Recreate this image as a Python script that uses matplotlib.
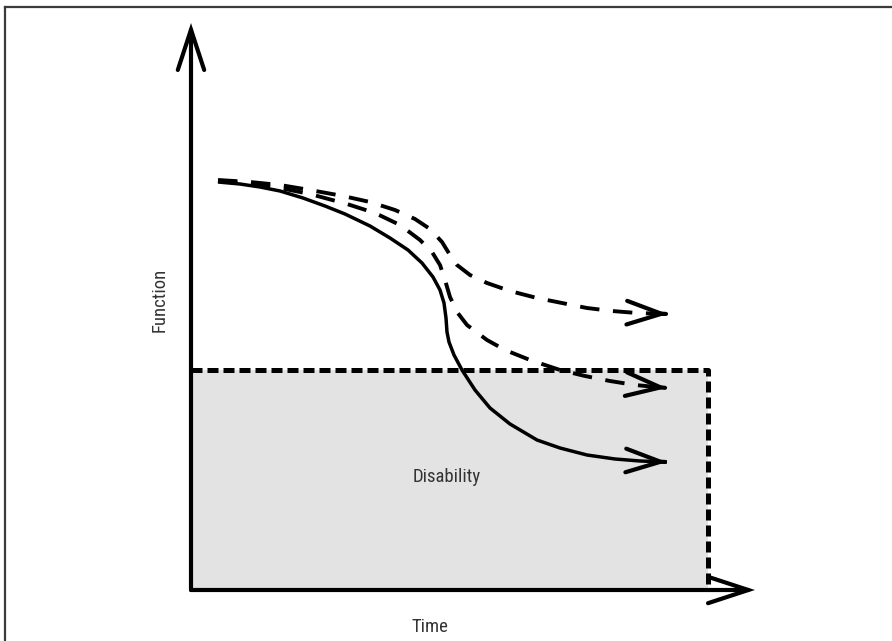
import matplotlib
matplotlib.use("Agg")
import matplotlib.pyplot as plt
from matplotlib.lines import Line2D
from matplotlib.patches import Rectangle
import numpy as np

# ---- data (Time on x, Function on y; origin at the axes corner) ----
solid_x = [27, 49, 69, 89, 112, 134, 154, 179, 199, 217, 231, 242, 249, 253, 255, 256, 258, 263,
           271, 284, 299, 319, 346, 369, 396, 424, 449, 476]
solid_y = [408, 406, 403, 399, 392, 384, 376, 364, 352, 340, 327, 313, 300, 287, 272, 258, 248, 235,
           220, 200, 182, 166, 150, 142, 135, 131, 129, 128]

upper_x = [27, 59, 89, 119, 152, 179, 204, 224, 239, 251, 259, 266, 279, 296, 319, 346, 371, 396,
           421, 446, 477]
upper_y = [410, 408, 405, 400, 394, 388, 380, 371, 361, 348, 335, 325, 315, 307, 299, 292, 287, 282,
           279, 277, 276]

middle_x = [27, 59, 89, 119, 156, 184, 209, 229, 241, 249, 254, 259, 266, 276, 296, 314, 339, 369,
            394, 419, 444, 476]
middle_y = [409, 406, 402, 396, 386, 377, 365, 350, 338, 325, 310, 293, 278, 265, 250, 240, 230, 220,
            214, 209, 205, 202]

disability_threshold = 220
disability_end_time = 517
x_axis_end = 564
y_axis_end = 567

label_x = "Time"
label_y = "Function"
label_region = "Disability"

# ---- figure ----
fig = plt.figure(figsize=(8.92, 6.41), dpi=100)
ax = fig.add_axes([0, 0, 1, 1])
ax.set_xlim(-191, 701)
ax.set_ylim(-51, 590)
ax.axis("off")

fam = ["Liberation Sans Narrow", "Roboto Condensed", "Roboto", "DejaVu Sans"]

# frame lines (top and left only)
fig.add_artist(Line2D([0.0056, 1.0], [0.989, 0.989], transform=fig.transFigure,
                      color="#3a3a3a", lw=1.6))
fig.add_artist(Line2D([0.0056, 0.0056], [0.0, 0.989], transform=fig.transFigure,
                      color="#3a3a3a", lw=1.6))

# disability region
ax.add_patch(Rectangle((0, 0), disability_end_time, disability_threshold,
                       facecolor="#e3e3e3", edgecolor="none", zorder=1))
ax.plot([0, disability_end_time, disability_end_time],
        [disability_threshold, disability_threshold, 0],
        color="black", lw=3.6, dashes=(2.2, 1.0), solid_joinstyle="miter",
        dash_capstyle="butt", zorder=3)

# axes with arrows
axis_arrow = dict(arrowstyle="->,head_length=2.9,head_width=0.95", lw=3.0, color="black",
                  mutation_scale=10, shrinkA=0, shrinkB=0, joinstyle="miter")
ax.annotate("", xy=(0, y_axis_end), xytext=(0, 0), arrowprops=axis_arrow, zorder=5)
ax.annotate("", xy=(x_axis_end, 0), xytext=(0, 0), arrowprops=axis_arrow, zorder=5)

# curves
def curve(xs, ys, dashed):
    kw = dict(color="black", solid_capstyle="butt", solid_joinstyle="round", zorder=4)
    if dashed:
        ax.plot(xs, ys, lw=2.8, dashes=(5.0, 3.5), dash_capstyle="butt",
                dash_joinstyle="round", **kw)
    else:
        ax.plot(xs, ys, lw=2.5, **kw)
    dx = xs[-1] - xs[-2]
    dy = ys[-1] - ys[-2]
    n = np.hypot(dx, dy)
    start = (xs[-1] - dx / n * 2, ys[-1] - dy / n * 2)
    ax.annotate("", xy=(xs[-1], ys[-1]), xytext=start,
                arrowprops=dict(arrowstyle="->,head_length=2.5,head_width=0.85", lw=3.0,
                                color="black", mutation_scale=10, shrinkA=0, shrinkB=0),
                zorder=5)

curve(upper_x, upper_y, True)
curve(middle_x, middle_y, True)
curve(solid_x, solid_y, False)

# labels
ax.text(239, -37, label_x, ha="center", va="center", fontsize=13.5, color="#333333", family=fam)
ax.text(-31, 290, label_y, ha="center", va="center", fontsize=13.5, color="#333333",
        rotation=90, family=fam)
ax.text(256, 113, label_region, ha="center", va="center", fontsize=13.5, color="#333333",
        family=fam)

fig.savefig("out.png", dpi=100)
